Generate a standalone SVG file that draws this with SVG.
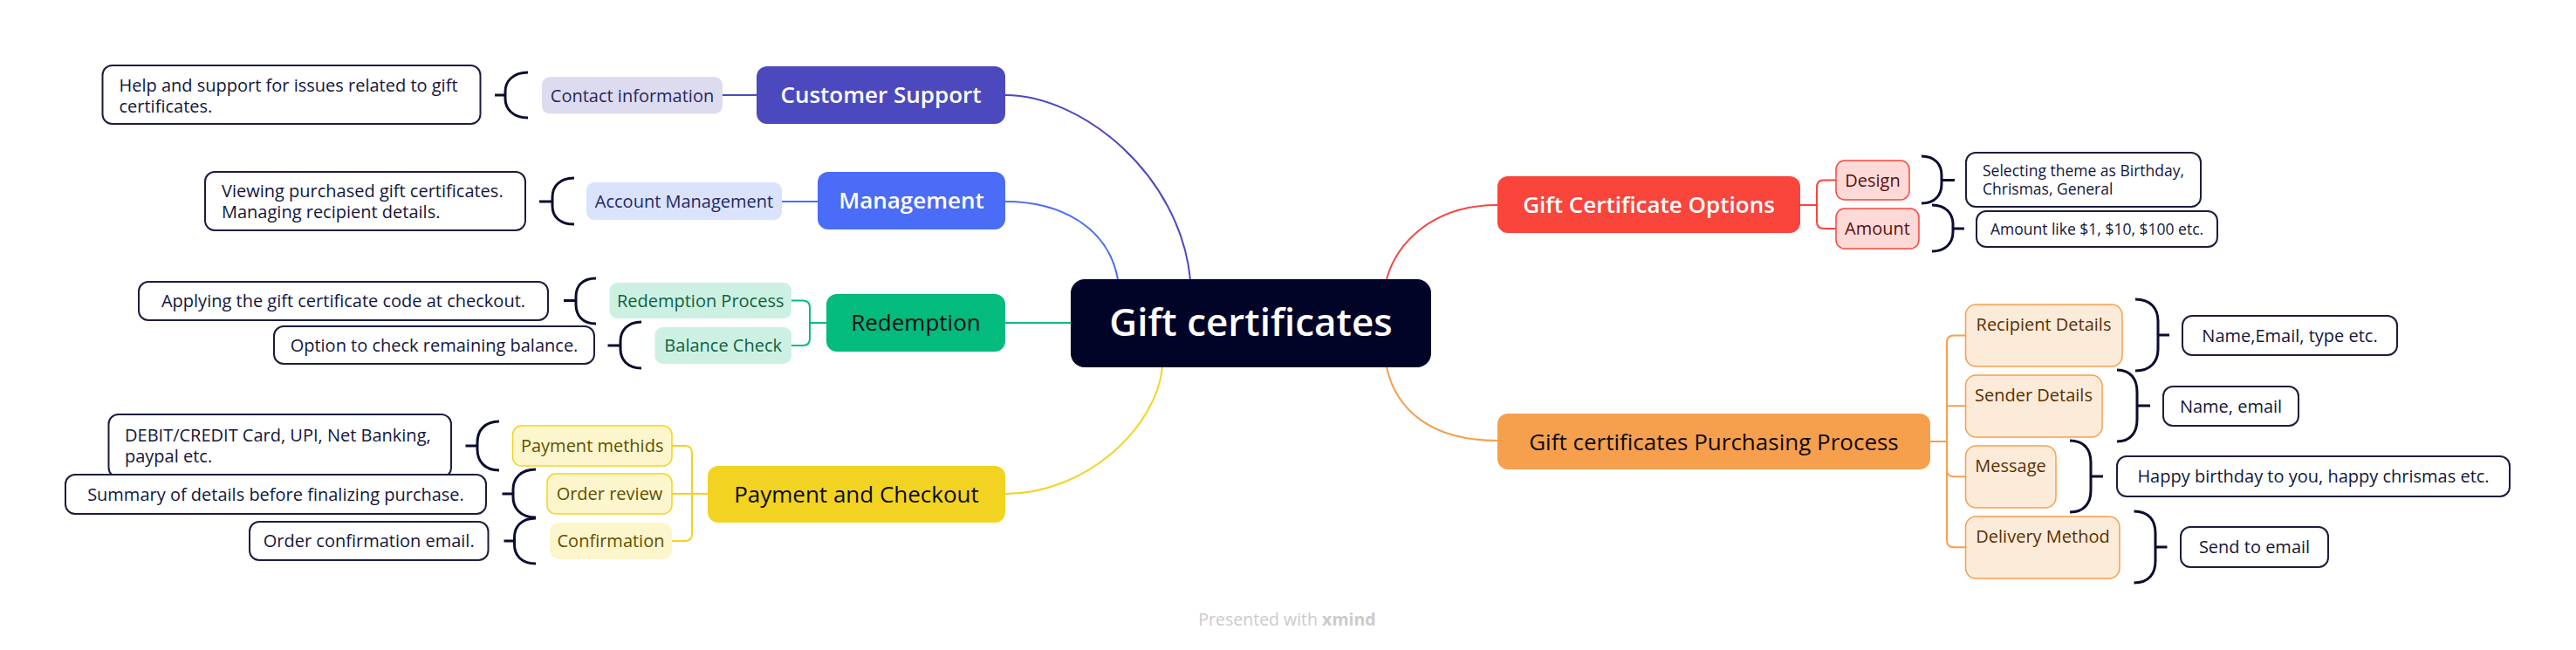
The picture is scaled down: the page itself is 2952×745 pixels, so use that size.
<svg xmlns="http://www.w3.org/2000/svg" width="2952" height="745" viewBox="0 0 2952 745">
<style>
text{font-family:'Open Sans','Liberation Sans',sans-serif}
.cal{fill:#fff;stroke:#1B1D3F;stroke-width:2}
.ct{font-size:20px;fill:#14163A}
.cs{font-size:17.5px;fill:#14163A}
.br{fill:none;stroke:#0B0D30;stroke-width:3;stroke-linecap:butt}
.mt{font-size:26px;text-anchor:middle}
.st{font-size:20px;text-anchor:middle}
.ln{fill:none;stroke-width:2}
</style>
<rect width="2952" height="745" fill="#fff"/>

<g id="connectors">
  <path class="ln" stroke="#4C49BF" d="M1152,109 C1240,109 1352,200 1364,320"/>
  <path class="ln" stroke="#4B6CF7" d="M1152,231 C1215,231 1270,260 1281,320"/>
  <path class="ln" stroke="#02BB7D" d="M1152,370 H1228"/>
  <path class="ln" stroke="#F3D321" d="M1152,566 C1245,566 1325,490 1332,421"/>
  <path class="ln" stroke="#F9453C" d="M1589,320 C1600,280 1640,235 1716,235"/>
  <path class="ln" stroke="#F6A04D" d="M1589,421 C1600,470 1640,505 1716,505"/>
  <path class="ln" stroke="#4C49BF" d="M828,109 H867"/>
  <path class="ln" stroke="#4B6CF7" d="M896,231 H937"/>
  <path class="ln" stroke="#02BB7D" d="M947,370 H928 V352 Q928,344.5 920,344.5 H907 M928,370 V388 Q928,396 920,396 H907"/>
  <path class="ln" stroke="#F3D321" d="M811,566 H770 M793,566 V519 Q793,511 785,511 H770 M793,566 V612 Q793,620 785,620 H770"/>
  <path class="ln" stroke="#F9453C" d="M2063,235 H2082 V214.5 Q2082,206.5 2090,206.5 H2104 M2082,235 V254 Q2082,262 2090,262 H2104"/>
  <path class="ln" stroke="#F6A04D" d="M2212,506 H2231 M2231,506 V392.5 Q2231,384.5 2239,384.5 H2253 M2231,465.3 H2253 M2231,506 V538.2 Q2231,546.2 2239,546.2 H2253 M2231,506 V619.2 Q2231,627.2 2239,627.2 H2253"/>
</g>

<g id="central">
  <rect x="1227" y="320" width="413" height="101" rx="16" fill="#010327"/>
  <text x="1433.5" y="385" font-size="44" font-weight="600" fill="#fff" text-anchor="middle">Gift certificates</text>
</g>

<g id="customer-support">
  <rect x="867" y="76" width="285" height="66" rx="12" fill="#4C49BF"/>
  <text class="mt" x="1009.5" y="118" fill="#fff" font-weight="600" font-size="25">Customer Support</text>
</g>
<g id="contact-information">
  <rect x="621" y="88.3" width="207" height="42" rx="9" fill="#DCDBF0"/>
  <text class="st" x="724.5" y="116.5" fill="#282858">Contact information</text>
</g>
<g id="note-contact">
  <path class="br" d="M605,83 C588,83 579,93 579,105 L579,113 C579,125 588,135 605,135 M567,109 H579"/>
  <rect class="cal" x="117.5" y="75" width="433" height="67" rx="11"/>
  <text class="ct" x="136.5" y="105">Help and support for issues related to gift</text>
  <text class="ct" x="136.5" y="128.5">certificates.</text>
</g>

<g id="management">
  <rect x="937" y="197" width="215" height="66" rx="12" fill="#4B6CF7"/>
  <text class="mt" x="1044.5" y="239" fill="#fff" font-weight="600" font-size="25">Management</text>
</g>
<g id="account-management">
  <rect x="672" y="209" width="224" height="43" rx="9" fill="#DBE2FC"/>
  <text class="st" x="784" y="237.5" fill="#1E2A64">Account Management</text>
</g>
<g id="note-account">
  <path class="br" d="M658,204 C641,204 633,214 633,226 L633,236 C633,248 641,257 658,257 M618,231 H633"/>
  <rect class="cal" x="235" y="197" width="367" height="67" rx="11"/>
  <text class="ct" x="254" y="226">Viewing purchased gift certificates.</text>
  <text class="ct" x="254" y="249.5">Managing recipient details.</text>
</g>

<g id="redemption">
  <rect x="947" y="337" width="205" height="66" rx="12" fill="#02BB7D"/>
  <text class="mt" x="1049.5" y="379" fill="#0C0C14">Redemption</text>
</g>
<g id="redemption-process">
  <rect x="698.5" y="324" width="208.5" height="41" rx="9" fill="#CCF1E3"/>
  <text class="st" x="802.7" y="351.5" fill="#12603F">Redemption Process</text>
</g>
<g id="balance-check">
  <rect x="750.5" y="375" width="156.5" height="42" rx="9" fill="#CCF1E3"/>
  <text class="st" x="828.7" y="403" fill="#12603F">Balance Check</text>
</g>
<g id="note-redemption">
  <path class="br" d="M683,319 C667,319 660,328 660,340 L660,349 C660,361 667,371 683,371 M646,344.5 H660"/>
  <rect class="cal" x="159" y="323" width="469" height="44" rx="11"/>
  <text class="ct" x="393.5" y="352" text-anchor="middle">Applying the gift certificate code at checkout.</text>
</g>
<g id="note-balance">
  <path class="br" d="M735,369 C719,369 711,379 711,391 L711,400 C711,412 719,422 735,422 M696.5,396 H711"/>
  <rect class="cal" x="314" y="374" width="367" height="43" rx="11"/>
  <text class="ct" x="497.5" y="403" text-anchor="middle">Option to check remaining balance.</text>
</g>

<g id="payment-checkout">
  <rect x="811" y="534" width="341" height="65" rx="12" fill="#F3D321"/>
  <text class="mt" x="981.5" y="575.5" fill="#0C0C14">Payment and Checkout</text>
</g>
<g id="payment-methods">
  <rect x="587.5" y="488" width="182.5" height="46" rx="10" fill="#FDF6CC" stroke="#F3D321" stroke-width="1.5"/>
  <text class="st" x="678.7" y="518" fill="#5E4E00">Payment methids</text>
</g>
<g id="order-review">
  <rect x="627" y="543" width="143" height="46" rx="10" fill="#FDF6CC" stroke="#F3D321" stroke-width="1.5"/>
  <text class="st" x="698.5" y="573" fill="#5E4E00">Order review</text>
</g>
<g id="confirmation">
  <rect x="630" y="599" width="140" height="42" rx="10" fill="#FDF6CC"/>
  <text class="st" x="700" y="627" fill="#5E4E00">Confirmation</text>
</g>
<g id="note-payment">
  <path class="br" d="M572,483 C555,483 547,494 547,507 L547,515 C547,528 555,539 572,539 M533.5,511 H547"/>
  <rect class="cal" x="124.5" y="475" width="392.5" height="72" rx="11"/>
  <text class="ct" x="143" y="506">DEBIT/CREDIT Card, UPI, Net Banking,</text>
  <text class="ct" x="143" y="529.5">paypal etc.</text>
</g>
<g id="note-order">
  <path class="br" d="M614,538 C596,538 588,549 588,561 L588,570 C588,582 596,593 614,593 M575.5,566 H588"/>
  <rect class="cal" x="75" y="544" width="482" height="45" rx="11"/>
  <text class="ct" x="316" y="573.5" text-anchor="middle">Summary of details before finalizing purchase.</text>
</g>
<g id="note-confirmation">
  <path class="br" d="M614,594 C597,594 589.5,604 589.5,616 L589.5,624 C589.5,636 597,646 614,646 M577.5,620 H589.5"/>
  <rect class="cal" x="286" y="598" width="273.5" height="44" rx="11"/>
  <text class="ct" x="422.7" y="627" text-anchor="middle">Order confirmation email.</text>
</g>

<g id="gift-certificate-options">
  <rect x="1716" y="202" width="347" height="65" rx="12" fill="#F9453C"/>
  <text class="mt" x="1889.5" y="244" fill="#fff" font-weight="600">Gift Certificate Options</text>
</g>
<g id="design">
  <rect x="2104" y="184" width="84" height="45" rx="10" fill="#FDDAD8" stroke="#F9453C" stroke-width="1.5"/>
  <text class="st" x="2146" y="213.5" fill="#5E0E0A">Design</text>
</g>
<g id="amount">
  <rect x="2104" y="239" width="95" height="46" rx="10" fill="#FDDAD8" stroke="#F9453C" stroke-width="1.5"/>
  <text class="st" x="2151.5" y="269" fill="#5E0E0A">Amount</text>
</g>
<g id="note-design">
  <path class="br" d="M2202,179 C2218,179 2225,189 2225,201 L2225,211 C2225,223 2218,233 2202,233 M2225,206.5 H2240"/>
  <rect class="cal" x="2253" y="175" width="269" height="62" rx="11"/>
  <text class="cs" x="2272" y="201.5">Selecting theme as Birthday,</text>
  <text class="cs" x="2272" y="222.5">Chrismas, General</text>
</g>
<g id="note-amount">
  <path class="br" d="M2214,235 C2230,235 2238,245 2238,257 L2238,266 C2238,278 2230,288 2214,288 M2238,262 H2251"/>
  <rect class="cal" x="2265" y="242" width="276" height="41" rx="11"/>
  <text class="cs" x="2403" y="268.5" text-anchor="middle">Amount like $1, $10, $100 etc.</text>
</g>

<g id="purchasing-process">
  <rect x="1716" y="474" width="496" height="64" rx="12" fill="#F6A04D"/>
  <text class="mt" x="1964" y="515.5" fill="#0C0C14" font-size="27">Gift certificates Purchasing Process</text>
</g>
<g id="recipient-details">
  <rect x="2252.5" y="349" width="179.5" height="71" rx="12" fill="#FDEBDA" stroke="#F6A04D" stroke-width="1.5"/>
  <text class="st" x="2342" y="379" fill="#5A3000">Recipient Details</text>
</g>
<g id="sender-details">
  <rect x="2252.5" y="430" width="156.5" height="71" rx="12" fill="#FDEBDA" stroke="#F6A04D" stroke-width="1.5"/>
  <text class="st" x="2330.5" y="460" fill="#5A3000">Sender Details</text>
</g>
<g id="message">
  <rect x="2252.5" y="511" width="103.5" height="71" rx="12" fill="#FDEBDA" stroke="#F6A04D" stroke-width="1.5"/>
  <text class="st" x="2304" y="540.5" fill="#5A3000">Message</text>
</g>
<g id="delivery-method">
  <rect x="2252.5" y="592" width="176.5" height="71" rx="12" fill="#FDEBDA" stroke="#F6A04D" stroke-width="1.5"/>
  <text class="st" x="2341" y="621.5" fill="#5A3000">Delivery Method</text>
</g>
<g id="note-recipient">
  <path class="br" d="M2447,343 C2465,343 2473,354 2473,368 L2473,400 C2473,414 2465,425 2447,425 M2473,384 H2486"/>
  <rect class="cal" x="2501" y="362" width="246" height="45" rx="11"/>
  <text class="ct" x="2624" y="391.5" text-anchor="middle">Name,Email, type etc.</text>
</g>
<g id="note-sender">
  <path class="br" d="M2426,424 C2442,424 2449,435 2449,449 L2449,481 C2449,495 2442,506 2426,506 M2449,465 H2464"/>
  <rect class="cal" x="2479" y="443" width="155" height="45" rx="11"/>
  <text class="ct" x="2556.5" y="472.5" text-anchor="middle">Name, email</text>
</g>
<g id="note-message">
  <path class="br" d="M2372,505 C2389,505 2396,516 2396,530 L2396,562 C2396,576 2389,587 2372,587 M2396,546 H2410"/>
  <rect class="cal" x="2426" y="523" width="450" height="46" rx="11"/>
  <text class="ct" x="2651" y="553" text-anchor="middle">Happy birthday to you, happy chrismas etc.</text>
</g>
<g id="note-delivery">
  <path class="br" d="M2445.5,586 C2463,586 2470,597 2470,611 L2470,643 C2470,657 2463,668 2445.5,668 M2470,627 H2483.5"/>
  <rect class="cal" x="2499" y="604" width="169" height="46" rx="11"/>
  <text class="ct" x="2583.5" y="634" text-anchor="middle">Send to email</text>
</g>

<text x="1475" y="717" font-size="19.5" fill="#CBCBCB" text-anchor="middle">Presented with <tspan font-weight="700">xmind</tspan></text>
</svg>
